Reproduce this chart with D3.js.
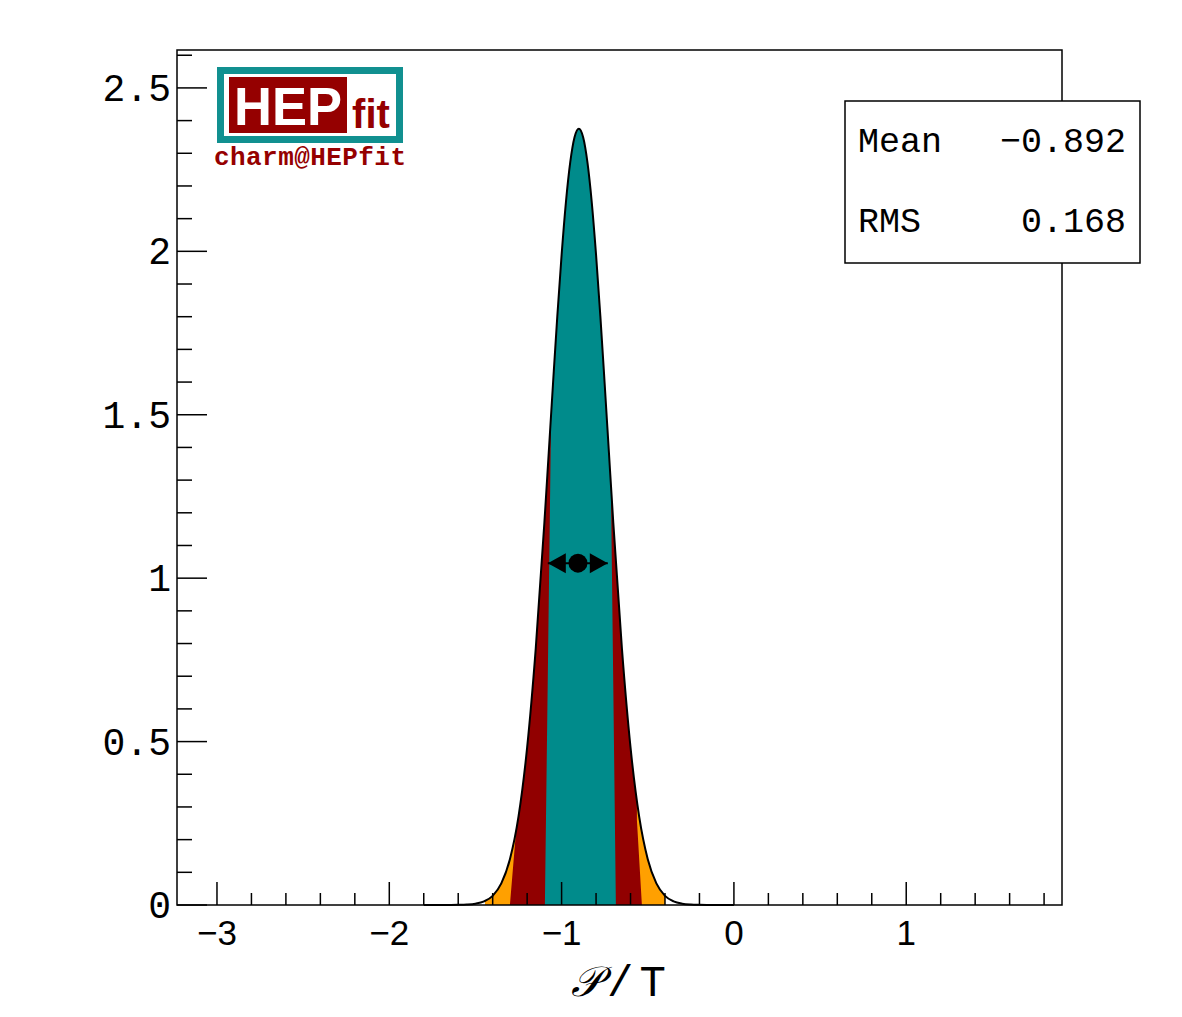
<!DOCTYPE html>
<html>
<head>
<meta charset="utf-8">
<script src="https://cdn.jsdelivr.net/npm/d3@7"></script>
<style>
  body { margin: 0; background: #fff; }
  svg { display: block; }
</style>
</head>
<body>
<svg id="chart" width="1182" height="1017"></svg>
<script>
// Posterior of P/T
const xValues = [-1.80, -1.75, -1.70, -1.65, -1.60, -1.55, -1.50, -1.45, -1.40, -1.35,
                 -1.30, -1.25, -1.20, -1.15, -1.10, -1.075, -1.05, -1.025, -1.00, -0.975,
                 -0.95, -0.925, -0.90, -0.875, -0.85, -0.825, -0.80, -0.775, -0.75, -0.725,
                 -0.70, -0.65, -0.60, -0.55, -0.50, -0.45, -0.40, -0.35, -0.30, -0.25,
                 -0.20, -0.15, -0.10, -0.05, 0.00];
const density = [0.0, 0.0, 0.0, 0.0001, 0.0004, 0.0013, 0.004, 0.011, 0.028, 0.066,
                 0.140, 0.271, 0.482, 0.785, 1.169, 1.381, 1.594, 1.801, 1.989, 2.150,
                 2.272, 2.349, 2.375, 2.349, 2.272, 2.150, 1.989, 1.801, 1.594, 1.381,
                 1.169, 0.785, 0.482, 0.271, 0.140, 0.066, 0.028, 0.011, 0.004, 0.0013,
                 0.0004, 0.0001, 0.0, 0.0, 0.0];

// probability bands (99.7%, 95%, 68%), widest first.
// each edge starts at (base, 0), slants to (top, knee) and then rises straight up
const bandNames = ["p997", "p95", "p68"];
const bandLowBase = [-1.445, -1.300, -1.097];
const bandLowTop = [-1.445, -1.259, -1.062];
const bandLowKnee = [0.10, 0.26, 1.45];
const bandHighBase = [-0.400, -0.534, -0.685];
const bandHighTop = [-0.400, -0.563, -0.714];
const bandHighKnee = [0.10, 0.26, 1.29];
const bandColors = ["#ffa000", "#910000", "#008b8b"];

// marker: mode with interval
const markX = -0.905, markLow = -1.080, markHigh = -0.732, markY = 1.046;

// stats box
const statNames = ["Mean", "RMS"];
const statValues = ["\u22120.892", "0.168"];

const xMajor = [-3, -2, -1, 0, 1];
const yMajor = [0, 0.5, 1, 1.5, 2, 2.5];

const plotL = 177, plotR = 1062, plotT = 50, plotB = 905;

const svg = d3.select("#chart");

const x = d3.scaleLinear().domain([-3.232, 1.904]).range([plotL, plotR]);
const y = d3.scaleLinear().domain([0, 2.616]).range([plotB, plotT]);

const pts = xValues.map((v, i) => ({x: v, y: density[i]}));

const area = d3.area()
    .x(d => x(d.x))
    .y0(y(0))
    .y1(d => y(d.y))
    .curve(d3.curveMonotoneX);

const line = d3.line()
    .x(d => x(d.x))
    .y(d => y(d.y))
    .curve(d3.curveMonotoneX);

const defs = svg.append("defs");
bandNames.forEach((name, i) => {
    const poly = [
        [x(bandLowBase[i]), y(0)],
        [x(bandLowTop[i]), y(bandLowKnee[i])],
        [x(bandLowTop[i]), plotT],
        [x(bandHighTop[i]), plotT],
        [x(bandHighTop[i]), y(bandHighKnee[i])],
        [x(bandHighBase[i]), y(0)]
    ];
    defs.append("clipPath").attr("id", "clip-" + name)
      .append("path")
        .attr("d", d3.line()(poly) + "Z");
});

// filled bands
bandNames.forEach((name, i) => {
    svg.append("path")
        .datum(pts)
        .attr("d", area)
        .attr("fill", bandColors[i])
        .attr("clip-path", "url(#clip-" + name + ")");
});

// outline of the distribution
svg.append("path")
    .datum(pts)
    .attr("d", line)
    .attr("fill", "none")
    .attr("stroke", "#000")
    .attr("stroke-width", 2);

// frame
svg.append("rect")
    .attr("x", plotL).attr("y", plotT)
    .attr("width", plotR - plotL).attr("height", plotB - plotT)
    .attr("fill", "none")
    .attr("stroke", "#000")
    .attr("stroke-width", 1.5);

// x ticks (inside, pointing up)
const xMinor = d3.range(-3, 1.81, 0.2).map(v => Math.round(v * 10) / 10);
svg.append("g").selectAll("line")
    .data(xMinor)
    .join("line")
    .attr("x1", d => x(d)).attr("x2", d => x(d))
    .attr("y1", plotB)
    .attr("y2", d => xMajor.includes(d) ? plotB - 23 : plotB - 12)
    .attr("stroke", "#000")
    .attr("stroke-width", 1.5);

svg.append("g").selectAll("text")
    .data(xMajor)
    .join("text")
    .attr("x", d => x(d))
    .attr("y", 945)
    .attr("text-anchor", "middle")
    .attr("font-family", "Liberation Sans, Arial, sans-serif")
    .attr("font-size", 35)
    .text(d => d3.format("d")(d));

// y ticks (inside, pointing right)
const yMinor = d3.range(0, 2.61, 0.1).map(v => Math.round(v * 10) / 10);
svg.append("g").selectAll("line")
    .data(yMinor)
    .join("line")
    .attr("x1", plotL)
    .attr("x2", d => yMajor.includes(d) ? plotL + 30 : plotL + 15)
    .attr("y1", d => y(d)).attr("y2", d => y(d))
    .attr("stroke", "#000")
    .attr("stroke-width", 1.5);

svg.append("g").selectAll("text")
    .data(yMajor)
    .join("text")
    .attr("x", 171)
    .attr("y", d => y(d) + 13)
    .attr("text-anchor", "end")
    .attr("font-family", "Liberation Mono, Courier New, monospace")
    .attr("font-size", 38)
    .text(d => d === 0 ? "0" : d3.format("")(d));

// axis title
const title = svg.append("text")
    .attr("x", 571)
    .attr("y", 996)
    .attr("font-size", 40);
title.append("tspan")
    .attr("font-family", "DejaVu Serif, serif")
    .attr("font-style", "italic")
    .attr("font-size", 42)
    .text("\u{1D4AB}");
title.append("tspan")
    .attr("dx", 6)
    .attr("font-family", "Liberation Mono, Courier New, monospace")
    .attr("font-size", 44)
    .attr("letter-spacing", 6)
    .text("/T");

// marker with interval arrows
const my = y(markY);
svg.append("line")
    .attr("x1", x(markLow)).attr("x2", x(markHigh))
    .attr("y1", my).attr("y2", my)
    .attr("stroke", "#000").attr("stroke-width", 2);
svg.append("path")
    .attr("d", `M${x(markLow)},${my} L${x(markLow) + 18},${my - 10} L${x(markLow) + 18},${my + 10} Z`)
    .attr("fill", "#000");
svg.append("path")
    .attr("d", `M${x(markHigh)},${my} L${x(markHigh) - 18},${my - 10} L${x(markHigh) - 18},${my + 10} Z`)
    .attr("fill", "#000");
svg.append("circle")
    .attr("cx", x(markX)).attr("cy", my).attr("r", 9.5)
    .attr("fill", "#000");

// stats box
svg.append("rect")
    .attr("x", 845).attr("y", 101)
    .attr("width", 295).attr("height", 162)
    .attr("fill", "#fff")
    .attr("stroke", "#000")
    .attr("stroke-width", 1.5);
statNames.forEach((s, i) => {
    svg.append("text")
        .attr("x", 858).attr("y", 152 + i * 80)
        .attr("font-family", "Liberation Mono, Courier New, monospace")
        .attr("font-size", 35)
        .text(s);
    svg.append("text")
        .attr("x", 1126).attr("y", 152 + i * 80)
        .attr("text-anchor", "end")
        .attr("font-family", "Liberation Mono, Courier New, monospace")
        .attr("font-size", 35)
        .text(statValues[i]);
});

// HEPfit logo
const logo = svg.append("g");
logo.append("rect")
    .attr("x", 220.5).attr("y", 70.5)
    .attr("width", 179).attr("height", 69)
    .attr("fill", "#fff")
    .attr("stroke", "#119090")
    .attr("stroke-width", 7);
logo.append("rect")
    .attr("x", 229).attr("y", 77)
    .attr("width", 118).attr("height", 56)
    .attr("fill", "#950000");
logo.append("text")
    .attr("x", 288).attr("y", 125)
    .attr("text-anchor", "middle")
    .attr("font-family", "Liberation Sans, Arial, sans-serif")
    .attr("font-weight", "bold")
    .attr("font-size", 54)
    .attr("textLength", 108)
    .attr("lengthAdjust", "spacingAndGlyphs")
    .attr("fill", "#fff")
    .text("HEP");
logo.append("text")
    .attr("x", 371).attr("y", 128)
    .attr("text-anchor", "middle")
    .attr("font-family", "Liberation Sans, Arial, sans-serif")
    .attr("font-weight", "bold")
    .attr("font-size", 40)
    .attr("fill", "#950000")
    .text("fit");
logo.append("text")
    .attr("x", 310).attr("y", 165)
    .attr("text-anchor", "middle")
    .attr("font-family", "Liberation Mono, Courier New, monospace")
    .attr("font-weight", "bold")
    .attr("font-size", 26)
    .attr("textLength", 192)
    .attr("fill", "#950000")
    .text("charm@HEPfit");
</script>
</body>
</html>
